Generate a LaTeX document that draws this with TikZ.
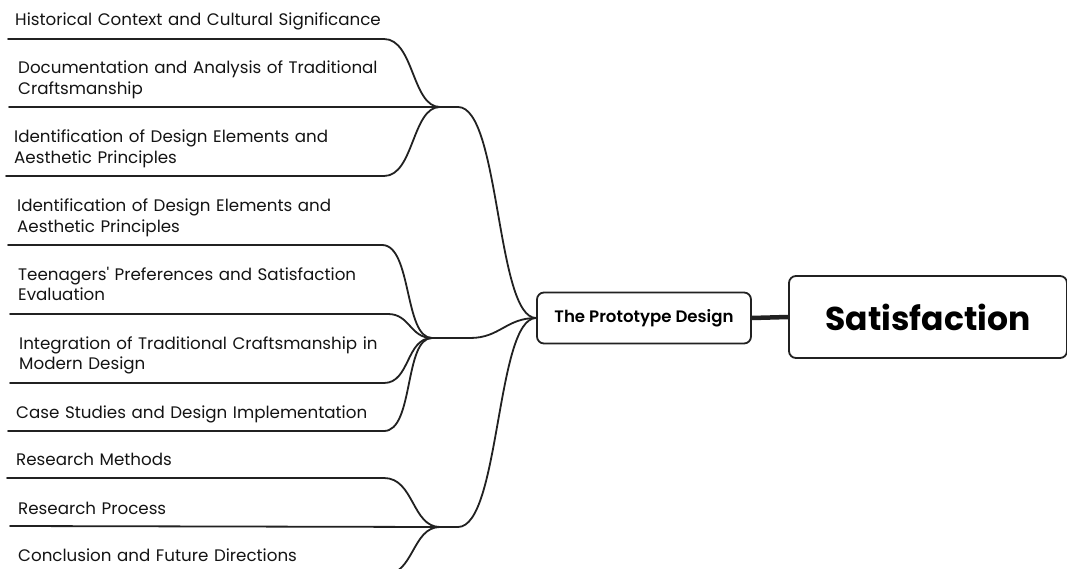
\documentclass[tikz,border=0pt]{standalone}
\usepackage{fontspec}
\setmainfont{Poppins}
\newfontfamily\semibold{Poppins SemiBold}
\usepackage{tikz}
\usetikzlibrary{positioning}
\definecolor{inkgray}{rgb}{0.08,0.08,0.08}
\definecolor{linegray}{rgb}{0.13,0.13,0.13}

\begin{document}
\begin{tikzpicture}[line cap=round,line join=round,x=1pt,y=-1pt,
  leaf/.style={anchor=base west,inner sep=0pt,text width=400pt,align=left,
    font=\fontsize{16.7}{20.5}\selectfont,text=inkgray},
  branch/.style={line width=1.8pt,draw=linegray},
  topicbox/.style={draw=linegray,fill=white,line width=1.8pt,rounded corners=7pt,
    inner sep=0pt,text=black}]
\useasboundingbox (0,0) rectangle (1067,569);
\fill[white] (0,0) rectangle (1067,569);
\clip (0,0) rectangle (1067,569);
% central topics
\node[topicbox,minimum width=214pt,minimum height=51pt,
  font=\fontsize{16.6}{18}\selectfont\semibold] (proto) at (644,318) {The Prototype Design};
\node[topicbox,minimum width=278pt,minimum height=82pt,
  font=\fontsize{33}{36}\selectfont\bfseries] (sat) at (928,317) {Satisfaction};
\draw[line width=4.5pt,linegray,line cap=butt] (proto.east) -- (sat.west);
% hubs
\coordinate (hubA) at (440,107);
\coordinate (hubB) at (432,338);
\coordinate (hubC) at (440,527);
\coordinate (bendA) at (458,107);
\coordinate (bendB) at (470,338);
\coordinate (bendC) at (458,527);
\draw[branch] (hubA) -- (bendA) .. controls +(42,0) and +(-40,0) .. (proto.west);
\draw[branch] (hubB) -- (bendB) .. controls +(30,0) and +(-30,0) .. (proto.west);
\draw[branch] (hubC) -- (bendC) .. controls +(42,0) and +(-40,0) .. (proto.west);
% leaves
\node[leaf] (t1) at (15,26) {Historical Context and Cultural Significance};
\node[leaf] (t2) at (18,74) {Documentation and Analysis of Traditional\\Craftsmanship};
\node[leaf] (t3) at (14,143) {Identification of Design Elements and\\Aesthetic Principles};
\node[leaf] (t4) at (17,212) {Identification of Design Elements and\\Aesthetic Principles};
\node[leaf] (t5) at (18,280) {Teenagers\textquotesingle\ Preferences and Satisfaction\\Evaluation};
\node[leaf] (t6) at (19,349) {Integration of Traditional Craftsmanship in\\Modern Design};
\node[leaf] (t7) at (16,418) {Case Studies and Design Implementation};
\node[leaf] (t8) at (16,465) {Research Methods};
\node[leaf] (t9) at (18,514) {Research Process};
\node[leaf] (t10) at (18,561) {Conclusion and Future Directions};
\coordinate (s1) at (8,39);    \coordinate (e1) at (384,39);
\coordinate (s2) at (9,107);
\coordinate (s3) at (6,176);   \coordinate (e3) at (384,176);
\coordinate (s4) at (8,245);   \coordinate (e4) at (382,245);
\coordinate (s5) at (10,314);  \coordinate (e5) at (388,314);
\coordinate (s6) at (10,383);  \coordinate (e6) at (384,383);
\coordinate (s7) at (8,431);   \coordinate (e7) at (384,431);
\coordinate (s8) at (7,478);   \coordinate (e8) at (384,478);
\coordinate (s9) at (10,526);
\coordinate (s10) at (8,575);  \coordinate (e10) at (384,575);
\draw[branch] (s1) -- (e1) .. controls +(30,0) and +(-28,0) .. (hubA);
\draw[branch] (s2) -- (hubA);
\draw[branch] (s3) -- (e3) .. controls +(30,0) and +(-28,0) .. (hubA);
\draw[branch] (s4) -- (e4) .. controls +(30,0) and +(-28,0) .. (hubB);
\draw[branch] (s5) -- (e5) .. controls +(22,0) and +(-22,0) .. (hubB);
\draw[branch] (s6) -- (e6) .. controls +(26,0) and +(-26,0) .. (hubB);
\draw[branch] (s7) -- (e7) .. controls +(30,0) and +(-28,0) .. (hubB);
\draw[branch] (s8) -- (e8) .. controls +(30,0) and +(-28,0) .. (hubC);
\draw[branch] (s9) -- (hubC);
\draw[branch] (s10) -- (e10) .. controls +(30,0) and +(-28,0) .. (hubC);
\end{tikzpicture}
\end{document}
